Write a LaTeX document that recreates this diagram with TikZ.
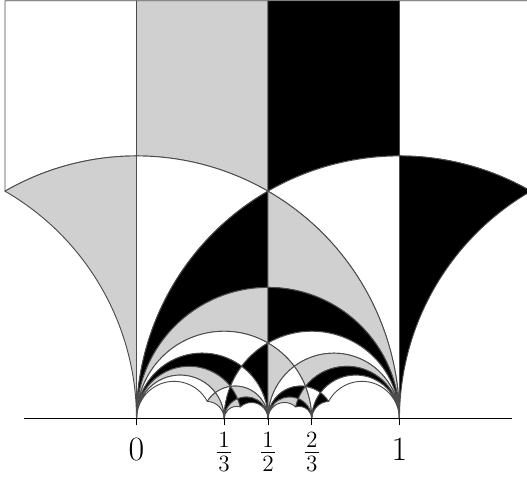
\documentclass[tikz,border=0pt]{standalone}
\usepackage{fontspec}
\definecolor{lgray}{RGB}{208,208,208}
\definecolor{linec}{RGB}{75,75,75}
\colorlet{col1}{white}
\colorlet{col2}{lgray}
\colorlet{col3}{black}
\tikzset{
  piece/.style={draw=linec,line width=0.5pt,line join=round},
  lbl/.style={anchor=base,inner sep=0pt,font=\fontsize{18.4}{20}\selectfont},
  axisline/.style={line width=0.6pt,black},
}
% class of p/q in P^1(F_3): 3 stands for infinity
\newcommand\clsof[3]{\pgfmathtruncatemacro#1{mod(#3,3)==0 ? 3 : mod(#2*#3,3)}}
\newcommand\xorof[3]{\pgfmathtruncatemacro#1{#2+#3-2*mod(#2,2)*mod(#3,2)-4*floor(#2/2)*floor(#3/2)}}
% other end of the median from u=#1/#2 in the Farey triangle (u,a,b)
\newcommand\otherend[6]{%
  \ifnum\numexpr#1*(#4+#6)\relax=\numexpr#2*(#3+#5)\relax
    \edef\oep{\the\numexpr#3-#5\relax}\edef\oeq{\the\numexpr#4-#6\relax}%
  \else
    \edef\oep{\the\numexpr#3+#5\relax}\edef\oeq{\the\numexpr#4+#6\relax}%
  \fi}
% piece: cusp c=#1/#2, Farey edge c--d (d=#3/#4), third vertex e=#5/#6
\newcommand\piece[6]{%
  \pgfmathsetmacro\xc{#1/#2}%
  \pgfmathsetmacro\xd{#3/#4}%
  \pgfmathsetmacro\den{#2*#2+#4*#4}%
  \pgfmathsetmacro\xE{(#1*#2+#3*#4)/\den}%
  \pgfmathsetmacro\yE{1/\den}%
  \pgfmathsetmacro\denC{#2*#2+#4*#4+#6*#6}%
  \pgfmathsetmacro\xC{(#1*#2+#3*#4+#5*#6)/\denC}%
  \pgfmathsetmacro\yC{sqrt(3)/\denC}%
  \pgfmathsetmacro\fc{(\xc+\xd)/2}%
  \pgfmathsetmacro\fR{abs(\xd-\xc)/2}%
  \pgfmathsetmacro\aA{\xc>\fc ? 0 : 180}%
  \pgfmathsetmacro\aB{atan2(\yE,\xE-\fc)}%
  \otherend{#5}{#6}{#1}{#2}{#3}{#4}%
  \ifnum\oeq=0
    \edef\segB{-- (\xC,\yC)}%
  \else
    \pgfmathsetmacro\mc{(#5/#6+(\oep)/(\oeq))/2}%
    \pgfmathsetmacro\mr{abs(#5/#6-(\oep)/(\oeq))/2}%
    \pgfmathsetmacro\aC{atan2(\yE,\xE-\mc)}%
    \pgfmathsetmacro\aD{atan2(\yC,\xC-\mc)}%
    \edef\segB{arc[start angle=\aC,end angle=\aD,radius=\mr]}%
  \fi
  \otherend{#1}{#2}{#3}{#4}{#5}{#6}%
  \ifnum\oeq=0
    \edef\segC{-- (\xc,0)}%
  \else
    \pgfmathsetmacro\mc{(\xc+(\oep)/(\oeq))/2}%
    \pgfmathsetmacro\mr{abs(\xc-(\oep)/(\oeq))/2}%
    \pgfmathsetmacro\aC{atan2(\yC,\xC-\mc)}%
    \pgfmathsetmacro\aD{\xc>\mc ? 0 : 180}%
    \edef\segC{arc[start angle=\aC,end angle=\aD,radius=\mr]}%
  \fi
  \clsof\ca{#1}{#2}\clsof\ce{#5}{#6}\xorof\lab\ca\ce
  \edef\tmp{\noexpand\filldraw[piece,fill=col\lab] (\xc,0) arc[start angle=\aA,end angle=\aB,radius=\fR] \segB\space\segC\space -- cycle;}%
  \tmp}
\newcommand\frc[2]{$\frac{\hbox{\fontsize{12.6}{13}\selectfont\kern0.8pt #1\kern0.8pt}}{\hbox{\fontsize{12.6}{13}\selectfont\kern0.8pt #2\kern0.8pt}}$}
\begin{document}
\begin{tikzpicture}[x=5cm,y=5cm]
\useasboundingbox (-0.519,-0.243) rectangle (1.485,1.593);
\clip (-0.519,-0.243) rectangle (1.485,1.593);
\def\tp{1.590}
% pieces with cusp at infinity
\filldraw[piece,fill=white] (-0.5,\tp) -- (-0.5,0.8660) arc[start angle=120,end angle=90,radius=1] -- (0,\tp) -- cycle;
\filldraw[piece,fill=lgray] (0,\tp) -- (0,1) arc[start angle=90,end angle=60,radius=1] -- (0.5,\tp) -- cycle;
\filldraw[piece,fill=black] (0.5,\tp) -- (0.5,0.8660) arc[start angle=120,end angle=90,radius=1] -- (1,\tp) -- cycle;
\filldraw[piece,fill=white] (1,\tp) -- (1,1) arc[start angle=90,end angle=60,radius=1] -- (1.5,\tp) -- cycle;
% pieces touching i, rho and 1+i
\filldraw[piece,fill=lgray] (0,0) -- (0,1) arc[start angle=90,end angle=120,radius=1] arc[start angle=60,end angle=0,radius=1] -- cycle;
\filldraw[piece,fill=white] (0,0) -- (0,1) arc[start angle=90,end angle=60,radius=1] arc[start angle=120,end angle=180,radius=1] -- cycle;
\filldraw[piece,fill=white] (1,0) -- (1,1) arc[start angle=90,end angle=120,radius=1] arc[start angle=60,end angle=0,radius=1] -- cycle;
\filldraw[piece,fill=black] (1,0) -- (1,1) arc[start angle=90,end angle=60,radius=1] arc[start angle=120,end angle=180,radius=1] -- cycle;
\filldraw[piece,fill=black] (0,0) arc[start angle=180,end angle=90,radius=0.5] -- (0.5,0.8660) arc[start angle=120,end angle=180,radius=1] -- cycle;
\filldraw[piece,fill=lgray] (1,0) arc[start angle=0,end angle=90,radius=0.5] -- (0.5,0.8660) arc[start angle=60,end angle=0,radius=1] -- cycle;
% pieces below the semicircle from 0 to 1
\piece{0}{1}{1}{1}{1}{2}
\piece{1}{1}{0}{1}{1}{2}
\piece{0}{1}{1}{2}{1}{1}
\piece{0}{1}{1}{2}{1}{3}
\piece{1}{2}{0}{1}{1}{1}
\piece{1}{2}{0}{1}{1}{3}
\piece{1}{1}{1}{2}{0}{1}
\piece{1}{1}{1}{2}{2}{3}
\piece{1}{2}{1}{1}{0}{1}
\piece{1}{2}{1}{1}{2}{3}
\piece{0}{1}{1}{3}{1}{2}
\piece{0}{1}{1}{3}{1}{4}
\piece{1}{3}{0}{1}{1}{2}
\piece{1}{3}{0}{1}{1}{4}
\piece{1}{3}{1}{2}{0}{1}
\piece{1}{3}{1}{2}{2}{5}
\piece{1}{2}{1}{3}{0}{1}
\piece{1}{2}{1}{3}{2}{5}
\piece{1}{2}{2}{3}{1}{1}
\piece{1}{2}{2}{3}{3}{5}
\piece{2}{3}{1}{2}{1}{1}
\piece{2}{3}{1}{2}{3}{5}
\piece{2}{3}{1}{1}{1}{2}
\piece{2}{3}{1}{1}{3}{4}
\piece{1}{1}{2}{3}{1}{2}
\piece{1}{1}{2}{3}{3}{4}
% real axis with ticks
\coordinate (axl) at (-0.428,0);
\coordinate (axr) at (1.428,0);
\draw[axisline] (axl) -- (axr);
\foreach \t/\n in {0/t0,0.33333/t1,0.5/t2,0.66667/t3,1/t4}{
  \coordinate (\n) at (\t,0);
  \draw[line width=0.5pt] (\n) -- ++(0,-0.023);
}
\node[lbl] (l0) at (0,-0.158) {0};
\node[lbl] (l1) at (0.33333,-0.158) {\frc{1}{3}};
\node[lbl] (l2) at (0.5,-0.158) {\frc{1}{2}};
\node[lbl] (l3) at (0.66667,-0.158) {\frc{2}{3}};
\node[lbl] (l4) at (1,-0.158) {1};
\end{tikzpicture}
\end{document}
